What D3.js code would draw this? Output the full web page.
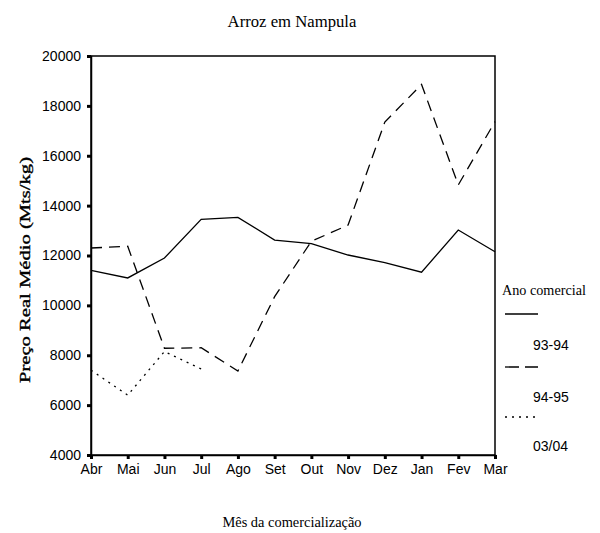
<!DOCTYPE html>
<html><head><meta charset="utf-8">
<script src="https://cdn.jsdelivr.net/npm/d3@7"></script>
<style>body{margin:0;background:#fff}svg{display:block}</style>
</head><body>
<svg id="c" width="600" height="533"></svg>
<script>
const months = ["Abr","Mai","Jun","Jul","Ago","Set","Out","Nov","Dez","Jan","Fev","Mar"];
const yTicks = [4000,6000,8000,10000,12000,14000,16000,18000,20000];
const s9394 = [11400,11100,11900,13450,13530,12620,12480,12020,11710,11330,13020,12150];
const s9495 = [12300,12370,8280,8300,7370,10350,12570,13220,17350,18860,14830,17370];
const s0304 = [7400,6400,8150,7450,null,null,null,null,null,null,null,null];
const seriesNames = ["93-94","94-95","03/04"];

const svg = d3.select("#c");
const L = 91, R = 495, T = 56, B = 455;
const x = d3.scalePoint().domain(months).range([L, R]).padding(0);
const y = d3.scaleLinear().domain([4000, 20000]).range([B, T]);
const serif = "'Liberation Serif','Times New Roman',serif";
const sans = "'Liberation Sans',Arial,sans-serif";

// frame
svg.append("rect").attr("x", L).attr("y", T).attr("width", R - L).attr("height", B - T)
  .attr("fill", "none").attr("stroke", "#000").attr("stroke-width", 1.5);

// y axis
const ya = svg.append("g").attr("transform", `translate(${L},0)`)
  .call(d3.axisLeft(y).tickValues(yTicks).tickFormat(d3.format("d")).tickSize(4).tickPadding(6));
ya.select(".domain").attr("stroke-width", 1.5);
ya.selectAll(".tick line").attr("stroke-width", 3);
ya.selectAll("text").attr("font-family", sans).attr("font-size", 14).attr("fill", "#000");

// x axis
const xa = svg.append("g").attr("transform", `translate(0,${B})`)
  .call(d3.axisBottom(x).tickSize(4).tickPadding(5));
xa.select(".domain").attr("stroke-width", 1.5);
xa.selectAll(".tick line").attr("stroke-width", 3);
xa.selectAll("text").attr("font-family", sans).attr("font-size", 14).attr("fill", "#000");

const dashes = [null, "11,7", "2,5"];
const data = [s9394, s9495, s0304];
const line = d3.line().defined(d => d.v != null).x(d => x(d.m)).y(d => y(d.v));
data.forEach((arr, i) => {
  svg.append("path")
    .datum(arr.map((v, j) => ({m: months[j], v})))
    .attr("d", line).attr("fill", "none").attr("stroke", "#000")
    .attr("stroke-width", 1.3)
    .attr("stroke-dasharray", dashes[i]);
});

// titles
svg.append("text").attr("x", 292).attr("y", 27).attr("text-anchor", "middle")
  .attr("font-family", serif).attr("font-size", 16.7).text("Arroz em Nampula");
svg.append("text").attr("x", 292).attr("y", 527).attr("text-anchor", "middle")
  .attr("font-family", serif).attr("font-size", 14.4).text("Mês da comercialização");
svg.append("text").attr("transform", "translate(30,270) rotate(-90)").attr("text-anchor", "middle")
  .attr("font-family", serif).attr("font-size", 15)
  .attr("stroke", "#000").attr("stroke-width", 0.35)
  .attr("textLength", 226).attr("lengthAdjust", "spacingAndGlyphs")
  .text("Preço Real Médio (Mts/kg)");

// legend
svg.append("text").attr("x", 502).attr("y", 295).attr("font-family", serif)
  .attr("font-size", 14.2).text("Ano comercial");
const legY = [314, 367, 417];
const legTY = [350, 402, 451];
seriesNames.forEach((n, i) => {
  svg.append("line").attr("x1", 505).attr("x2", 538).attr("y1", legY[i]).attr("y2", legY[i])
    .attr("stroke", "#000").attr("stroke-width", 1.3)
    .attr("stroke-dasharray", i === 1 ? "14,6" : (i === 2 ? "2,5" : null));
  svg.append("text").attr("x", 533).attr("y", legTY[i]).attr("font-family", sans)
    .attr("font-size", 14).text(n);
});
</script>
</body></html>
